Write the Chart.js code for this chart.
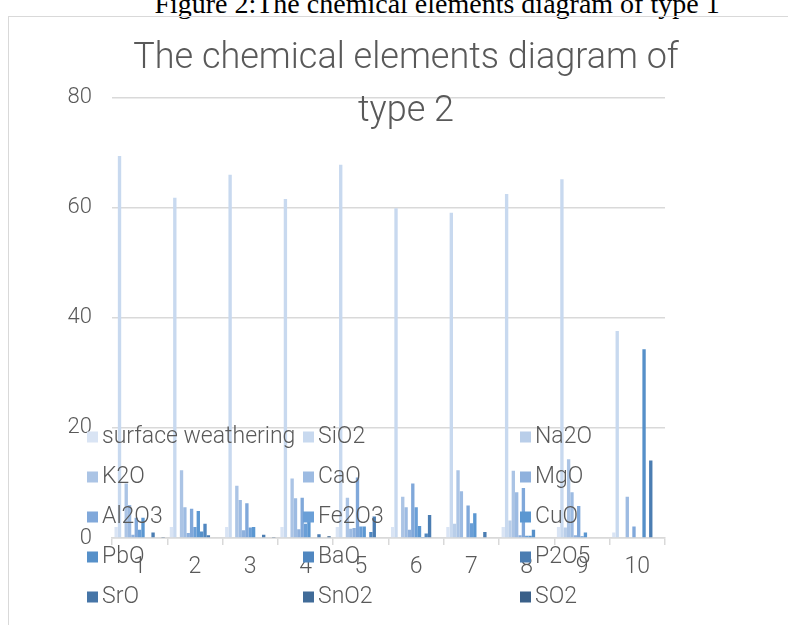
<!DOCTYPE html>
<html>
<head>
<meta charset="utf-8">
<script src="https://cdn.jsdelivr.net/npm/chart.js@4.4.0/dist/chart.umd.min.js"></script>
<style>
  body { margin: 0; background: #fff; overflow: hidden; }
  #caption {
    position: absolute; left: 43px; top: -11px; width: 788px;
    text-align: center; white-space: nowrap;
    font-family: "Liberation Serif", serif; font-size: 28px; line-height: 30px; color: #000;
  }
  #frame {
    position: absolute; left: 8px; top: 16px; width: 820px; height: 700px;
    border: 1.5px solid #d9d9d9;
  }
  #wrap { position: absolute; left: 0; top: 0; width: 788px; height: 625px; }
</style>
</head>
<body>
<div id="caption">Figure 2:The chemical elements diagram of type 1</div>
<div id="frame"></div>
<div id="wrap"><canvas id="chart" width="788" height="625"></canvas></div>
<script>
const categories = ['1', '2', '3', '4', '5', '6', '7', '8', '9', '10'];

const surfaceWeathering = [2, 2, 2, 2, 2, 2, 2, 2, 2, 1];
const SiO2  = [69.4, 61.8, 66.0, 61.6, 67.8, 59.9, 59.1, 62.5, 65.2, 37.6];
const Na2O  = [0, 0, 0, 0, 0, 0, 2.6, 3.2, 1.9, 0];
const K2O   = [9.9, 12.3, 9.5, 10.8, 7.3, 7.5, 12.3, 12.2, 14.3, 0];
const CaO   = [6.0, 5.6, 6.9, 7.2, 1.7, 5.6, 8.5, 8.3, 8.3, 7.5];
const MgO   = [0.6, 0.9, 1.4, 1.6, 1.8, 1.5, 0, 0.5, 0.5, 0];
const Al2O3 = [3.7, 5.3, 6.3, 7.3, 11.0, 9.9, 5.9, 9.1, 5.8, 2.1];
const Fe2O3 = [1.5, 2.0, 1.9, 2.6, 2.1, 5.6, 2.7, 0.4, 0.3, 0];
const CuO   = [3.7, 4.9, 2.0, 3.3, 2.1, 2.2, 4.5, 0.4, 1.0, 0];
const PbO   = [0, 1.2, 0, 0, 0, 0.2, 0, 1.5, 0, 34.3];
const BaO   = [0, 2.6, 0, 0, 1.1, 0.8, 0, 0, 0, 0];
const P2O5  = [1.0, 0.5, 0.6, 0.7, 3.9, 4.2, 1.1, 0, 0, 14.1];
const SrO   = [0, 0, 0, 0, 0, 0, 0, 0, 0, 0];
const SnO2  = [0, 0, 0, 0, 0, 0, 0, 0, 0, 0];
const SO2   = [0.2, 0, 0.2, 0.3, 0, 0, 0, 0, 0, 0];

const seriesNames = ['surface weathering', 'SiO2', 'Na2O', 'K2O', 'CaO', 'MgO', 'Al2O3',
  'Fe2O3', 'CuO', 'PbO', 'BaO', 'P2O5', 'SrO', 'SnO2', 'SO2'];
const seriesData = [surfaceWeathering, SiO2, Na2O, K2O, CaO, MgO, Al2O3,
  Fe2O3, CuO, PbO, BaO, P2O5, SrO, SnO2, SO2];
const seriesColors = ['#d9e4f4', '#c8d9ef', '#b9cee9', '#abc4e5', '#9dbbe2', '#8fb1dd', '#80a8da',
  '#6a9fd7', '#5b97d1', '#5690c9', '#5087c0', '#4b7db2', '#4675a7', '#406b98', '#3a6089'];

const yTicks = [0, 20, 40, 60, 80];
const titleLines = ['The chemical elements diagram of', 'type 2'];

const textColor = '#595959';
const fontName = 'Roboto';

// title sits over the plot, like the original
const titlePlugin = {
  id: 'overlayTitle',
  afterDraw(chart) {
    const ctx = chart.ctx;
    ctx.save();
    ctx.font = '300 36px ' + fontName;
    ctx.fillStyle = textColor;
    ctx.textAlign = 'center';
    ctx.textBaseline = 'middle';
    titleLines.forEach((line, i) => ctx.fillText(line, 406, 59 + i * 53));
    ctx.restore();
  }
};

// legend in 3 columns drawn on top of the bars
const legendPlugin = {
  id: 'overlayLegend',
  afterDraw(chart) {
    const ctx = chart.ctx;
    const colX = [87, 303, 520];
    ctx.save();
    ctx.font = '300 23px ' + fontName;
    ctx.textAlign = 'left';
    ctx.textBaseline = 'middle';
    chart.data.datasets.forEach((ds, i) => {
      const x = colX[i % 3];
      const y = 437 + Math.floor(i / 3) * 40;
      ctx.fillStyle = ds.backgroundColor;
      ctx.fillRect(x, y - 5.5, 11, 11);
      ctx.fillStyle = textColor;
      ctx.fillText(ds.label, x + 15, y);
    });
    ctx.restore();
  }
};

const datasets = seriesNames.map((name, i) => ({
  label: name,
  data: seriesData[i],
  backgroundColor: seriesColors[i],
  borderWidth: 0,
  categoryPercentage: 0.91,
  barPercentage: 1.0
}));

new Chart(document.getElementById('chart'), {
  type: 'bar',
  data: { labels: categories, datasets: datasets },
  options: {
    responsive: false,
    animation: false,
    devicePixelRatio: 1,
    layout: { padding: { left: 0, top: 97.7, right: 123, bottom: 0 } },
    plugins: {
      legend: { display: false },
      title: { display: false },
      tooltip: { enabled: false }
    },
    scales: {
      x: {
        grid: { drawOnChartArea: false, color: '#d9d9d9', lineWidth: 1.5, tickLength: 7 },
        border: { color: '#d9d9d9', width: 1.5 },
        ticks: { color: textColor, font: { family: fontName, size: 23, weight: 300 }, padding: 8, maxRotation: 0 },
        afterFit(scale) { scale.height = 87; }
      },
      y: {
        min: 0,
        max: 80,
        afterBuildTicks(scale) { scale.ticks = yTicks.map(v => ({ value: v })); },
        grid: { color: '#d9d9d9', lineWidth: 1.5, drawTicks: false },
        border: { display: false },
        ticks: { color: textColor, font: { family: fontName, size: 22, weight: 300 }, padding: 20 },
        afterFit(scale) { scale.width = 112; }
      }
    }
  },
  plugins: [titlePlugin, legendPlugin]
});
</script>
</body>
</html>
